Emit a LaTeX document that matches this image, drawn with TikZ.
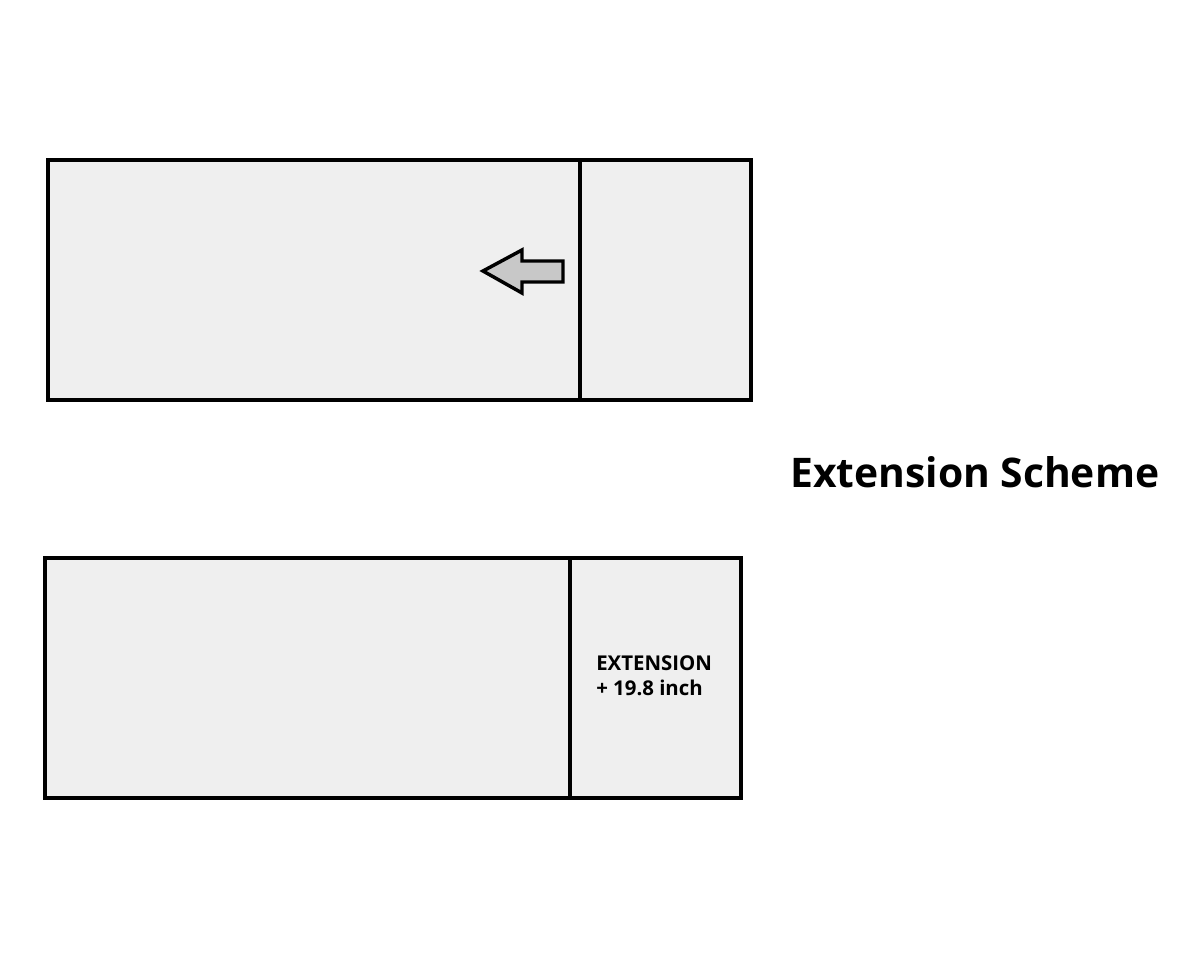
\documentclass[tikz,border=0pt]{standalone}
\usepackage{fontspec}
\setmainfont{Open Sans}
\begin{document}
\begin{tikzpicture}[x=0.75pt,y=-0.75pt,
  panel/.style={draw=black,line width=3pt,fill=panelgray},
  divider/.style={draw=black,line width=3pt},
  arrowshape/.style={draw=black,line width=2.6pt,fill=arrowgray,line join=miter},
  title/.style={font=\bfseries\fontsize{30.6}{34}\selectfont,anchor=west,inner sep=0pt},
  label/.style={font=\bfseries\fontsize{15.3}{19}\selectfont,align=left,anchor=west,inner sep=0pt}]
\definecolor{panelgray}{HTML}{EFEFEF}
\definecolor{arrowgray}{HTML}{C8C8C8}
\useasboundingbox[fill=white] (0,0) rectangle (1200,960);
% top panel
\path[panel] (48,160) coordinate (t1) rectangle (751,400) coordinate (t2);
\coordinate (tdt) at (580,160);
\coordinate (tdb) at (580,400);
\draw[divider] (tdt) -- (tdb);
% arrow
\path[arrowshape] (483,271) -- (522,250) -- (522,261) -- (563,261) -- (563,282) -- (522,282) -- (522,293) -- cycle;
% bottom panel
\path[panel] (45,558) rectangle (741,798);
\coordinate (bdt) at (570,558);
\coordinate (bdb) at (570,798);
\draw[divider] (bdt) -- (bdb);
\node[label] (ext) at (596,676) {EXTENSION\\+ 19.8 inch};
% title
\node[title] (ttl) at (790,472) {Extension Scheme};
\end{tikzpicture}
\end{document}
